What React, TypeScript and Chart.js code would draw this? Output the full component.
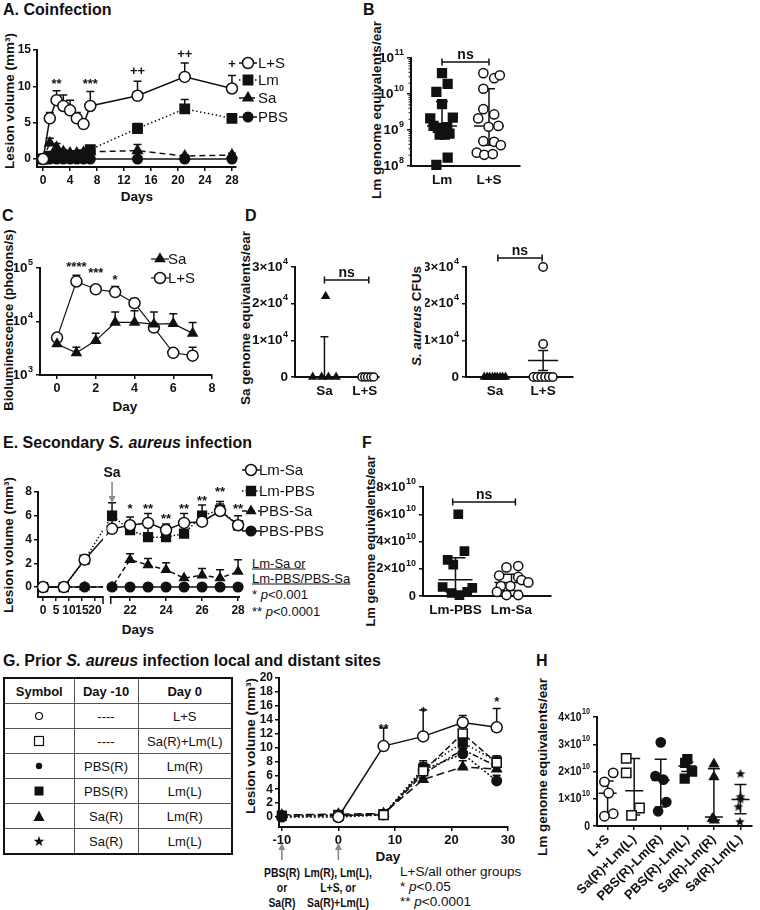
import React, { useEffect, useRef } from 'react';
import { Chart, registerables } from 'chart.js';

Chart.register(...registerables);

const FONT = '"Liberation Sans", Arial, Helvetica, sans-serif';
const INK = '#111111';
const ARROW = '#8a8a8a';
Chart.defaults.font.family = FONT;
Chart.defaults.color = INK;

/* ===================== DATA ===================== */
// A. Coinfection – lesion volume (mm3)
const aDays = [0, 1, 2, 3, 4, 5, 6, 7, 14, 21, 28];
const aLS = [0, 5.6, 8.1, 7.3, 6.7, 5.6, 4.8, 7.3, 8.7, 11.3, 9.7];
const aLSHi = [null, 6.4, 9.4, 8.8, 8.1, 6.4, null, 9.3, 10.7, 13.2, 11.5];
const aLm = [0, 0.4, 0.4, 0.4, 0.5, 0.5, 0.6, 1.3, 4.2, 6.9, 5.6];
const aLmHi = [null, null, null, null, null, null, null, 1.7, 4.9, 8.2, null];
const aSa = [0, 2.2, 1.6, 1.0, 0.8, 0.8, 0.9, 1.0, 1.15, 0.4, 0.55];
const aSaHi = [null, 2.85, 2.15, 1.3, 1.1, 1.05, 1.1, 1.3, 2.0, 0.6, 0.8];
const aPBS = [0, 0, 0, 0, 0, 0, 0, 0, 0, 0, 0];
const aXTicks = [0, 4, 8, 12, 16, 20, 24, 28];
const aYTicks = [0, 5, 10, 15];
const aSigText = ['**', '***', '++', '++', '+'];
const aSigDay = [2, 7, 14, 21, 28];
const aSigAt = [10.9, 10.9, 12.2, 14.5, 13.1];

// B. Lm genome equivalents/ear
const bCats = ['Lm', 'L+S'];
const bLm = [3.8e10, 1.9e10, 1.15e10, 5.2e9, 2.1e9, 2.2e9, 1.3e9, 1.15e9, 1.2e9, 7.4e8, 7.4e8, 7.9e8, 1.7e8, 1.07e8];
const bLmJit = [0, 0.12, -0.12, 0, -0.25, 0.23, -0.18, -0.09, 0.11, -0.05, 0.06, 0.16, 0.12, -0.12];
const bLS = [3.8e10, 2.75e10, 3.3e10, 1.4e10, 3.8e9, 2.7e9, 2.1e9, 1.23e9, 1.3e9, 4.9e8, 4.7e8, 3.8e8, 2.35e8, 2.05e8, 2.15e8];
const bLSJit = [-0.12, 0.11, 0.23, -0.12, -0.12, 0.11, -0.23, -0.01, 0.2, -0.12, 0.11, 0.25, -0.26, -0.1, 0.08];
const bMid = [1.3e9, 1.3e9];
const bHi = [6.2e9, 1.4e10];
const bLo = [7.5e8, 3.8e8];
const bYTicks = [1e8, 1e9, 1e10, 1e11];

// C. Bioluminescence (photons/s)
const cDays = [0, 1, 2, 3, 4, 5, 6, 7];
const cSa = [3.8e3, 2.6e3, 4.4e3, 9.6e3, 9.6e3, 8.9e3, 9.1e3, 6.0e3];
const cSaHi = [4.4e3, 3.3e3, 6.0e3, 1.5e4, 1.58e4, 1.5e4, 1.4e4, 9.6e3];
const cLS = [5.0e3, 5.6e4, 4.0e4, 3.55e4, 2.2e4, 7.7e3, 2.6e3, 2.3e3];
const cLSHi = [null, 7.3e4, 4.6e4, 4.5e4, 2.7e4, null, 2.9e3, 3.3e3];
const cXTicks = [0, 2, 4, 6, 8];
const cYTicks = [1e3, 1e4, 1e5];
const cSigText = ['****', '***', '*'];
const cSigDay = [1, 2, 3];
const cSigAt = [1.25e5, 9.3e4, 6.9e4];

// D. Sa genome equivalents/ear and S. aureus CFUs
const dCats = ['Sa', 'L+S'];
const dSaGen = [22000, 0, 0, 0, 0];
const dSaGenJit = [0.03, -0.29, -0.07, 0.1, 0.29];
const dLSGen = [0, 0, 0, 0, 0];
const dLSGenJit = [-0.07, 0, 0.07, 0.15, 0.22];
const dSaCfu = [0, 0, 0, 0, 0, 0, 0, 0, 0];
const dSaCfuJit = [-0.22, -0.16, -0.11, -0.05, 0, 0.05, 0.11, 0.16, 0.22];
const dLSCfu = [30000, 9000, 0, 0, 0, 0, 0, 0];
const dLSCfuJit = [0, 0, -0.2, -0.12, -0.04, 0.04, 0.12, 0.2];
const dYTicks = [0, 1e4, 2e4, 3e4];

// E. Secondary S. aureus infection – lesion volume (mm3)
const eDays = [0, 8, 16, 21, 22, 23, 24, 25, 26, 27, 28];
const eLmSa = [0, 0, 2.3, 4.9, 5.2, 5.4, 4.8, 5.4, 5.5, 6.4, 5.2];
const eLmSaHi = [null, null, 2.6, 5.6, 5.9, 6.2, 5.3, 6.2, null, 7.0, 6.0];
const eLmPbs = [0, 0, 2.3, 6.0, 4.8, 4.2, 4.2, 4.5, 6.0, 6.5, 5.2];
const eLmPbsHi = [null, null, null, 7.1, null, 5.0, null, null, 6.9, 7.2, null];
const ePbsSa = [0, 0, 0, 0, 2.3, 1.85, 1.45, 0.75, 1.0, 0.75, 1.3];
const ePbsSaHi = [null, null, null, null, 2.8, 2.4, 2.05, null, 1.55, 1.45, 2.3];
const ePbsPbs = [0, 0, 0, 0, 0, 0, 0, 0, 0, 0, 0];
const eTickDays = [0, 5, 10, 15, 20, 22, 24, 26, 28];
const eYTicks = [0, 2, 4, 6, 8];
const eSigText = ['*', '**', '**', '**', '**', '**', '**'];
const eSigDay = [22, 23, 24, 25, 26, 27, 28];
const eSigAt = [6.9, 6.9, 6.05, 6.9, 7.6, 8.3, 6.9];
// broken time axis: days 0-20 compressed, days 21-28 expanded
const eU = (d: number) => (d <= 20 ? d * 0.1444 : 3.833 + (d - 21));

// F. Lm genome equivalents/ear
const fCats = ['Lm-PBS', 'Lm-Sa'];
const fPbs = [6.0e10, 3.3e10, 2.65e10, 2.3e10, 0.66e10, 0.22e10, 0.07e10, 0.3e10, 0.59e10];
const fPbsJit = [0.05, 0.16, -0.14, -0.04, -0.23, -0.07, 0.07, 0.21, 0.3];
const fSa = [2.1e10, 2.2e10, 1.5e10, 1.4e10, 1.17e10, 1.0e10, 0.73e10, 0.73e10, 0.3e10, 0.07e10, 0.07e10];
const fSaJit = [-0.09, 0.12, -0.22, 0.12, 0.18, 0.3, -0.19, -0.02, -0.26, -0.09, 0.12];
const fMid = [1.2e10, 1.0e10];
const fHi = [2.8e10, 1.6e10];
const fLo = [0.3e10, 0.4e10];
const fYTicks = [0, 2e10, 4e10, 6e10, 8e10];

// G. Prior S. aureus infection – lesion volume (mm3)
const gDays = [-10, 0, 8, 15, 22, 28];
const gLS = [null, 0, 10.2, 11.6, 13.6, 12.9];
const gLSHi = [null, null, 12.8, 15.4, 14.6, 15.6];
const gSaLm = [null, 0.2, 0.3, 6.6, 12.0, 7.8];
const gSaLmHi = [null, null, null, 7.4, 12.9, 8.4];
const gPbsR = [0, 0, 0.3, 6.8, 9.1, 5.2];
const gPbsRHi = [null, null, null, 7.8, 9.9, 6.0];
const gPbsL = [0.2, 0.3, 0.4, 7.0, 10.7, 8.0];
const gPbsLHi = [null, null, null, 8.1, 11.4, 8.8];
const gSaR = [0.3, 0.4, 0.5, 5.4, 7.2, 6.9];
const gSaRHi = [null, null, null, 6.2, 8.1, 7.6];
const gSaL = [0.1, 0.2, 0.4, 6.2, 9.7, 7.3];
const gSaLHi = [null, null, null, 7.2, 10.5, 8.1];
const gXTicks = [-10, 0, 10, 20, 30];
const gYTicks = [0, 2, 4, 6, 8, 10, 12, 14, 16, 18, 20];
const gSigText = ['**', '*', '*'];
const gSigDay = [8, 15, 28];
const gSigAt = [13.2, 15.7, 17.1];

// G table
const tHead = ['Symbol', 'Day -10', 'Day 0'];
const tSym = ['oc', 'os', 'fc', 'fs', 'tr', 'st'];
const tPrior = ['----', '----', 'PBS(R)', 'PBS(R)', 'Sa(R)', 'Sa(R)'];
const tDay0 = ['L+S', 'Sa(R)+Lm(L)', 'Lm(R)', 'Lm(L)', 'Lm(R)', 'Lm(L)'];

// H. Lm genome equivalents/ear
const hCats = ['L+S', 'Sa(R)+Lm(L)', 'PBS(R)-Lm(R)', 'PBS(R)-Lm(L)', 'Sa(R)-Lm(R)', 'Sa(R)-Lm(L)'];
const hLS = [1.95e10, 1.62e10, 1.21e10, 0.45e10, 0.36e10];
const hLSJit = [0.21, -0.12, 0.04, 0.21, -0.12];
const hSaLm = [2.48e10, 1.95e10, 0.66e10, 0.39e10];
const hSaLmJit = [-0.3, -0.3, 0.2, -0.1];
const hPbsR = [3.07e10, 1.83e10, 1.7e10, 0.88e10, 0.54e10];
const hPbsRJit = [0, -0.2, 0.1, 0.21, -0.1];
const hPbsL = [2.45e10, 2.32e10, 2.0e10, 1.74e10];
const hPbsLJit = [0, -0.08, 0.18, -0.1];
const hSaR = [2.27e10, 1.8e10, 0.27e10, 0.21e10];
const hSaRJit = [0, 0, -0.06, 0.02];
const hSaL = [1.93e10, 1.09e10, 1.0e10, 0.72e10, 0.17e10];
const hSaLJit = [0, 0, 0, -0.08, -0.02];
const hMid = [1.2e10, 1.29e10, 1.68e10, 2.2e10, 0.33e10, 0.97e10];
const hHi = [1.65e10, 2.48e10, 2.45e10, 2.35e10, 2.1e10, 1.52e10];
const hLo = [0.45e10, 0.4e10, 0.7e10, 2.0e10, 0.22e10, 0.45e10];
const hYTicks = [0, 1e10, 2e10, 3e10, 4e10];

/* ===================== HELPERS ===================== */
type Box = { x: number; y: number; w: number; h: number };
type Plot = { L: number; T: number; R: number; B: number };

function series(xs: number[], ys: (number | null)[], hi?: (number | null)[], mapX?: (v: number) => number) {
  const out: any[] = [];
  xs.forEach((x, i) => {
    const y = ys[i];
    if (y !== null && y !== undefined) out.push({ x: mapX ? mapX(x) : x, y, hi: hi ? hi[i] : null });
  });
  return out;
}
function jittered(cat: number, vals: number[], jit: number[]) {
  return vals.map((v, i) => ({ x: cat + jit[i], y: v }));
}

const starCache: Record<string, HTMLCanvasElement> = {};
function starImg(R: number) {
  const key = String(R);
  if (starCache[key]) return starCache[key];
  const c = document.createElement('canvas');
  const s = Math.ceil(R * 2 + 2);
  c.width = s;
  c.height = s;
  const ctx = c.getContext('2d')!;
  ctx.fillStyle = INK;
  ctx.beginPath();
  for (let i = 0; i < 10; i++) {
    const rr = i % 2 === 0 ? R : R * 0.45;
    const a = -Math.PI / 2 + (i * Math.PI) / 5;
    const px = s / 2 + rr * Math.cos(a);
    const py = s / 2 + rr * Math.sin(a) + R * 0.1;
    if (i === 0) ctx.moveTo(px, py);
    else ctx.lineTo(px, py);
  }
  ctx.closePath();
  ctx.fill();
  starCache[key] = c;
  return c;
}

function look(shape: string, r: number, filled: boolean, dash: number[] = [], line = true, lw = 1.5) {
  return {
    pointStyle: shape === 'star' ? starImg(r) : shape,
    pointRadius: r,
    pointHoverRadius: r,
    pointBackgroundColor: filled ? INK : '#ffffff',
    pointBorderColor: INK,
    pointBorderWidth: 1.5,
    borderColor: INK,
    borderWidth: lw,
    borderDash: dash,
    showLine: line,
    tension: 0,
    spanGaps: true,
    clip: false,
    fill: false,
  };
}

function marker(ctx: CanvasRenderingContext2D, ds: any, x: number, y: number) {
  const st = ds.pointStyle;
  const r = ds.pointRadius;
  ctx.save();
  ctx.setLineDash([]);
  if (typeof st !== 'string') {
    ctx.drawImage(st, x - st.width / 2, y - st.height / 2);
    ctx.restore();
    return;
  }
  ctx.fillStyle = ds.pointBackgroundColor;
  ctx.strokeStyle = ds.pointBorderColor;
  ctx.lineWidth = ds.pointBorderWidth;
  ctx.beginPath();
  if (st === 'circle') ctx.arc(x, y, r, 0, Math.PI * 2);
  else if (st === 'rect') {
    const s = r * Math.SQRT1_2;
    ctx.rect(x - s, y - s, 2 * s, 2 * s);
  } else if (st === 'triangle') {
    let a = 0;
    ctx.moveTo(x + Math.sin(a) * r, y - Math.cos(a) * r);
    a += (2 * Math.PI) / 3;
    ctx.lineTo(x + Math.sin(a) * r, y - Math.cos(a) * r);
    a += (2 * Math.PI) / 3;
    ctx.lineTo(x + Math.sin(a) * r, y - Math.cos(a) * r);
    ctx.closePath();
  }
  ctx.fill();
  ctx.stroke();
  ctx.restore();
}

function sciParts(v: number, mode: string): [string, string] {
  if (v === 0) return ['0', ''];
  const e = Math.floor(Math.log10(v) + 1e-9);
  const m = Math.round(v / Math.pow(10, e));
  if (mode === 'pow') return ['10', String(e)];
  return [`${m}\u00d710`, String(e)];
}
function supLabel(ctx: CanvasRenderingContext2D, xr: number, y: number, base: string, exp: string, size: number, sx: number) {
  ctx.save();
  ctx.translate(xr, y);
  ctx.scale(sx, 1);
  ctx.fillStyle = INK;
  ctx.textBaseline = 'middle';
  ctx.textAlign = 'left';
  const fb = `bold ${size}px ${FONT}`;
  const fe = `bold ${Math.round(size * 0.66)}px ${FONT}`;
  ctx.font = fe;
  const we = exp ? ctx.measureText(exp).width + 0.5 : 0;
  ctx.font = fb;
  const wb = ctx.measureText(base).width;
  ctx.fillText(base, -we - wb, 0);
  if (exp) {
    ctx.font = fe;
    ctx.fillText(exp, -we + 0.5, -size * 0.42);
  }
  ctx.restore();
}

type Cfg = {
  ox?: number;
  oy?: number;
  err?: boolean;
  cap?: number;
  sum?: { cats: number[]; mid: (number | null)[]; hi: (number | null)[]; lo: (number | null)[]; hw: number; cap: number };
  notes?: { x: number[]; y: number[]; t: string[]; size?: number };
  brackets?: { x1: number; x2: number; py: number; t: string }[];
  legend?: { mx: number; tx: number; ys: number[]; labels: string[]; size?: number };
  sci?: string;
  sciSize?: number;
  sciSX?: number;
  minorLog?: boolean;
  gap?: [number, number];
  segs?: [number, number][];
  arrows?: { x: number; tail: number; head: number }[];
  tags?: { x: number; py: number; t: string }[];
};

function makeFig(c: Cfg) {
  const ox = c.ox || 0;
  const oy = c.oy || 0;
  return {
    id: 'fig',
    beforeDatasetsDraw(chart: any) {
      const ctx = chart.ctx;
      const xs = chart.scales.x;
      const ys = chart.scales.y;
      ctx.save();
      ctx.strokeStyle = INK;
      ctx.lineWidth = 1.5;
      ctx.setLineDash([]);
      if (c.sum) {
        const s = c.sum;
        s.cats.forEach((cx, i) => {
          const x = xs.getPixelForValue(cx);
          const mid = s.mid[i];
          const hi = s.hi[i];
          const lo = s.lo[i];
          ctx.beginPath();
          if (mid !== null && mid !== undefined) {
            const y = ys.getPixelForValue(mid);
            ctx.moveTo(x - s.hw, y);
            ctx.lineTo(x + s.hw, y);
          }
          if (hi !== null && lo !== null && hi !== undefined && lo !== undefined) {
            const yh = ys.getPixelForValue(hi);
            const yl = ys.getPixelForValue(lo);
            ctx.moveTo(x, yh);
            ctx.lineTo(x, yl);
            ctx.moveTo(x - s.cap, yh);
            ctx.lineTo(x + s.cap, yh);
            ctx.moveTo(x - s.cap, yl);
            ctx.lineTo(x + s.cap, yl);
          }
          ctx.stroke();
        });
      }
      if (c.err) {
        const cap = c.cap || 4;
        chart.data.datasets.forEach((ds: any, di: number) => {
          const meta = chart.getDatasetMeta(di);
          ds.data.forEach((p: any, i: number) => {
            if (p.hi === null || p.hi === undefined) return;
            const el = meta.data[i];
            if (!el) return;
            const yh = ys.getPixelForValue(p.hi);
            ctx.beginPath();
            ctx.moveTo(el.x, el.y);
            ctx.lineTo(el.x, yh);
            ctx.moveTo(el.x - cap, yh);
            ctx.lineTo(el.x + cap, yh);
            ctx.stroke();
          });
        });
      }
      ctx.restore();
    },
    beforeDatasetDraw(chart: any) {
      if (!c.gap) return;
      const ctx = chart.ctx;
      const xs = chart.scales.x;
      const g1 = xs.getPixelForValue(c.gap[0]);
      const g2 = xs.getPixelForValue(c.gap[1]);
      ctx.save();
      ctx.beginPath();
      ctx.rect(0, 0, g1, chart.height);
      ctx.rect(g2, 0, chart.width - g2, chart.height);
      ctx.clip();
    },
    afterDatasetDraw(chart: any) {
      if (c.gap) chart.ctx.restore();
    },
    afterDraw(chart: any) {
      const ctx = chart.ctx;
      const xs = chart.scales.x;
      const ys = chart.scales.y;
      const A = chart.chartArea;
      ctx.save();
      ctx.setLineDash([]);
      if (c.sci) {
        ys.ticks.forEach((t: any) => {
          const [b, e] = sciParts(t.value, c.sci as string);
          supLabel(ctx, A.left - 7, ys.getPixelForValue(t.value), b, e, c.sciSize || 13.5, c.sciSX || 1);
        });
      }
      if (c.minorLog) {
        ctx.strokeStyle = INK;
        ctx.lineWidth = 1;
        const lo = Math.log10(ys.min);
        const hi = Math.log10(ys.max);
        for (let k = Math.floor(lo); k < hi; k++) {
          for (let m = 2; m < 10; m++) {
            const v = m * Math.pow(10, k);
            if (v < ys.min || v > ys.max) continue;
            const p = ys.getPixelForValue(v);
            ctx.beginPath();
            ctx.moveTo(A.left - 2.5, p);
            ctx.lineTo(A.left, p);
            ctx.stroke();
          }
        }
      }
      if (c.segs) {
        ctx.strokeStyle = INK;
        ctx.lineWidth = 2;
        c.segs.forEach(([a, b]) => {
          ctx.beginPath();
          ctx.moveTo(xs.getPixelForValue(a) - 1, A.bottom);
          ctx.lineTo(xs.getPixelForValue(b), A.bottom);
          ctx.stroke();
        });
        ctx.lineWidth = 1.5;
        const e1 = xs.getPixelForValue(c.segs[0][1]);
        const s2 = xs.getPixelForValue(c.segs[1][0]);
        [e1, s2].forEach((p) => {
          ctx.beginPath();
          ctx.moveTo(p, A.bottom - 1);
          ctx.lineTo(p, A.bottom + 7);
          ctx.stroke();
        });
      }
      if (c.notes) {
        const n = c.notes;
        const sz = n.size || 13;
        ctx.fillStyle = INK;
        ctx.textAlign = 'center';
        ctx.textBaseline = 'alphabetic';
        ctx.font = `bold ${sz}px ${FONT}`;
        n.t.forEach((t, i) => {
          const k = t.includes('*') ? 0.6 : 0.36;
          ctx.fillText(t, xs.getPixelForValue(n.x[i]), ys.getPixelForValue(n.y[i]) + k * sz);
        });
      }
      (c.brackets || []).forEach((b) => {
        const x1 = xs.getPixelForValue(b.x1);
        const x2 = xs.getPixelForValue(b.x2);
        const y = b.py - oy;
        ctx.strokeStyle = INK;
        ctx.lineWidth = 1.5;
        ctx.beginPath();
        ctx.moveTo(x1, y);
        ctx.lineTo(x2, y);
        ctx.moveTo(x1, y - 3.5);
        ctx.lineTo(x1, y + 3.5);
        ctx.moveTo(x2, y - 3.5);
        ctx.lineTo(x2, y + 3.5);
        ctx.stroke();
        ctx.fillStyle = INK;
        ctx.font = `bold 14px ${FONT}`;
        ctx.textAlign = 'center';
        ctx.textBaseline = 'alphabetic';
        ctx.fillText(b.t, (x1 + x2) / 2, y - 3.5);
      });
      if (c.legend) {
        const L = c.legend;
        L.ys.forEach((py, i) => {
          const ds = chart.data.datasets[i];
          const y = py - oy;
          const mx = L.mx - ox;
          ctx.strokeStyle = INK;
          ctx.lineWidth = ds.borderWidth;
          ctx.setLineDash(ds.borderDash || []);
          ctx.beginPath();
          ctx.moveTo(mx - 9, y);
          ctx.lineTo(mx + 9, y);
          ctx.stroke();
          ctx.setLineDash([]);
          marker(ctx, ds, mx, y);
          ctx.fillStyle = INK;
          ctx.font = `${L.size || 15}px ${FONT}`;
          ctx.textAlign = 'left';
          ctx.textBaseline = 'middle';
          ctx.fillText(L.labels[i], L.tx - ox, y + 1);
        });
      }
      (c.arrows || []).forEach((a) => {
        const x = xs.getPixelForValue(a.x);
        const t = a.tail - oy;
        const h = a.head - oy;
        const dir = h > t ? 1 : -1;
        ctx.strokeStyle = ARROW;
        ctx.fillStyle = ARROW;
        ctx.lineWidth = 1.6;
        ctx.beginPath();
        ctx.moveTo(x, t);
        ctx.lineTo(x, h - dir * 5);
        ctx.stroke();
        ctx.beginPath();
        ctx.moveTo(x, h);
        ctx.lineTo(x - 3.5, h - dir * 7);
        ctx.lineTo(x + 3.5, h - dir * 7);
        ctx.closePath();
        ctx.fill();
      });
      (c.tags || []).forEach((g) => {
        ctx.fillStyle = INK;
        ctx.font = `bold 14px ${FONT}`;
        ctx.textAlign = 'center';
        ctx.textBaseline = 'middle';
        ctx.fillText(g.t, xs.getPixelForValue(g.x), g.py - oy);
      });
      ctx.restore();
    },
  };
}

function ax(o: {
  type?: string;
  min: number;
  max: number;
  ticks: number[];
  labels?: string[];
  marks?: boolean;
  show?: boolean;
  size?: number;
  rot?: number;
  border?: boolean;
}) {
  return {
    type: o.type || 'linear',
    min: o.min,
    max: o.max,
    afterBuildTicks: (s: any) => {
      s.ticks = o.ticks.map((v) => ({ value: v }));
    },
    grid: {
      display: o.marks !== false,
      drawOnChartArea: false,
      drawTicks: true,
      tickLength: 4,
      color: INK,
      lineWidth: 1.5,
    },
    border: { display: o.border !== false, color: INK, width: 2 },
    ticks: {
      display: o.show !== false,
      autoSkip: false,
      maxRotation: o.rot || 0,
      minRotation: o.rot || 0,
      padding: 2,
      color: INK,
      font: { family: FONT, size: o.size || 12, weight: 'bold' },
      callback: (v: number, i: number) => (o.labels ? o.labels[i] : String(v)),
    },
  };
}

function build(cv: HTMLCanvasElement, box: Box, plot: Plot, type: any, datasets: any[], x: any, y: any, cfg: Cfg) {
  const xh = box.y + box.h - plot.B;
  const yw = plot.L - box.x;
  const zero = (s: any) => {
    s.paddingLeft = 0;
    s.paddingRight = 0;
    s.paddingTop = 0;
    s.paddingBottom = 0;
  };
  return new Chart(cv, {
    type,
    data: { datasets },
    options: {
      responsive: false,
      maintainAspectRatio: false,
      animation: false,
      devicePixelRatio: 1,
      events: [],
      layout: { padding: { left: 0, top: plot.T - box.y, right: box.x + box.w - plot.R, bottom: 0 } },
      plugins: { legend: { display: false }, tooltip: { enabled: false }, title: { display: false } },
      scales: {
        x: { ...x, position: 'bottom', afterFit: (s: any) => { s.height = xh; zero(s); } },
        y: { ...y, position: 'left', afterFit: (s: any) => { s.width = yw; zero(s); } },
      },
    } as any,
    plugins: [makeFig({ ...cfg, ox: box.x, oy: box.y }) as any],
  });
}

/* ===================== PANELS ===================== */
const boxA: Box = { x: 0, y: 20, w: 300, h: 172 };
const boxB: Box = { x: 375, y: 20, w: 160, h: 172 };
const boxC: Box = { x: 14, y: 210, w: 222, h: 190 };
const boxD1: Box = { x: 252, y: 240, w: 132, h: 160 };
const boxD2: Box = { x: 425, y: 240, w: 155, h: 160 };
const boxE: Box = { x: 14, y: 455, w: 330, h: 165 };
const boxF: Box = { x: 368, y: 470, w: 190, h: 150 };
const boxG: Box = { x: 255, y: 665, w: 265, h: 200 };
const boxH: Box = { x: 540, y: 665, w: 220, h: 245 };

const makeA = (cv: HTMLCanvasElement) =>
  build(cv, boxA, { L: 37, T: 50, R: 236, B: 167 }, 'line', [
    { ...look('circle', 5.5, false), data: series(aDays, aLS, aLSHi) },
    { ...look('rect', 6.6, true, [1.5, 2.5]), data: series(aDays, aLm, aLmHi) },
    { ...look('triangle', 5.6, true, [6, 4]), data: series(aDays, aSa, aSaHi) },
    { ...look('circle', 4.8, true), data: series(aDays, aPBS) },
  ],
  ax({ min: -0.9, max: 28.6, ticks: aXTicks }),
  ax({ min: -1.1, max: 15, ticks: aYTicks }),
  {
    err: true,
    notes: { x: aSigDay, y: aSigAt, t: aSigText },
    legend: { mx: 248, tx: 258, ys: [63, 80, 98, 117], labels: ['L+S', 'Lm', 'Sa', 'PBS'] },
  });

const makeB = (cv: HTMLCanvasElement) =>
  build(cv, boxB, { L: 411, T: 58, R: 520, B: 166 }, 'scatter', [
    { ...look('rect', 6.2, true, [], false), data: jittered(1, bLm, bLmJit) },
    { ...look('circle', 4.6, false, [], false), data: jittered(2, bLS, bLSJit) },
  ],
  ax({ min: 0.34, max: 2.66, ticks: [1, 2], labels: bCats, marks: false, size: 13.5 }),
  ax({ type: 'logarithmic', min: 1e8, max: 1e11, ticks: bYTicks, show: false }),
  {
    sum: { cats: [1, 2], mid: bMid, hi: bHi, lo: bLo, hw: 15, cap: 6 },
    sci: 'pow',
    minorLog: true,
    brackets: [{ x1: 1, x2: 2, py: 62, t: 'ns' }],
  });

const makeC = (cv: HTMLCanvasElement) =>
  build(cv, boxC, { L: 40, T: 268, R: 212, B: 375 }, 'line', [
    { ...look('triangle', 5.2, true, [], true, 1.2), data: series(cDays, cSa, cSaHi) },
    { ...look('circle', 5.5, false, [], true, 1.2), data: series(cDays, cLS, cLSHi) },
  ],
  ax({ min: -0.88, max: 8, ticks: cXTicks, size: 12.5 }),
  ax({ type: 'logarithmic', min: 1e3, max: 1e5, ticks: cYTicks, show: false }),
  {
    err: true,
    sci: 'pow',
    notes: { x: cSigDay, y: cSigAt, t: cSigText },
    legend: { mx: 160, tx: 168, ys: [259, 278], labels: ['Sa', 'L+S'] },
  });

const makeD1 = (cv: HTMLCanvasElement) =>
  build(cv, boxD1, { L: 295, T: 267, R: 380, B: 377 }, 'scatter', [
    { ...look('triangle', 4, true, [], false), data: jittered(1, dSaGen, dSaGenJit) },
    { ...look('circle', 4, false, [], false), data: jittered(2, dLSGen, dLSGenJit) },
  ],
  ax({ min: 0.27, max: 2.34, ticks: [1, 2], labels: dCats, marks: false, size: 13.5 }),
  ax({ min: 0, max: 3e4, ticks: dYTicks, show: false }),
  {
    sum: { cats: [1], mid: [0], hi: [1.1e4], lo: [0], hw: 12, cap: 4 },
    sci: 'mul',
    brackets: [{ x1: 1, x2: 2.1, py: 280, t: 'ns' }],
  });

const makeD2 = (cv: HTMLCanvasElement) =>
  build(cv, boxD2, { L: 466, T: 267, R: 573, B: 377 }, 'scatter', [
    { ...look('triangle', 4, true, [], false), data: jittered(1, dSaCfu, dSaCfuJit) },
    { ...look('circle', 4.2, false, [], false), data: jittered(2, dLSCfu, dLSCfuJit) },
  ],
  ax({ min: 0.4, max: 2.62, ticks: [1, 2], labels: dCats, marks: false, size: 13.5 }),
  ax({ min: 0, max: 3e4, ticks: dYTicks, show: false }),
  {
    sum: { cats: [2], mid: [4500], hi: [7200], lo: [1800], hw: 15, cap: 5 },
    sci: 'mul',
    brackets: [{ x1: 1.06, x2: 1.98, py: 258, t: 'ns' }],
  });

const makeE = (cv: HTMLCanvasElement) =>
  build(cv, boxE, { L: 38, T: 492, R: 240, B: 597 }, 'line', [
    { ...look('circle', 5.5, false), data: series(eDays, eLmSa, eLmSaHi, eU) },
    { ...look('rect', 6.2, true, [1.5, 2]), data: series(eDays, eLmPbs, eLmPbsHi, eU) },
    { ...look('triangle', 5, true, [5, 3]), data: series(eDays, ePbsSa, ePbsSaHi, eU) },
    { ...look('circle', 4.8, true), data: series(eDays, ePbsPbs, undefined, eU) },
  ],
  ax({ min: -0.28, max: 10.94, ticks: eTickDays.map(eU), labels: eTickDays.map(String), border: false }),
  ax({ min: -0.84, max: 8, ticks: eYTicks }),
  {
    err: true,
    gap: [3.333, 3.52],
    segs: [[-0.28, 3.333], [3.76, 10.94]],
    notes: { x: eSigDay.map(eU), y: eSigAt, t: eSigText },
    legend: { mx: 251, tx: 259, ys: [470, 491, 511, 531], labels: ['Lm-Sa', 'Lm-PBS', 'PBS-Sa', 'PBS-PBS'] },
    arrows: [{ x: eU(21), tail: 482, head: 503 }],
    tags: [{ x: eU(21), py: 473, t: 'Sa' }],
  });

const makeF = (cv: HTMLCanvasElement) =>
  build(cv, boxF, { L: 423, T: 487, R: 553, B: 596 }, 'scatter', [
    { ...look('rect', 5.8, true, [], false), data: jittered(1, fPbs, fPbsJit) },
    { ...look('circle', 4.6, false, [], false), data: jittered(2, fSa, fSaJit) },
  ],
  ax({ min: 0.42, max: 2.7, ticks: [1, 2], labels: fCats, marks: false, size: 13.5 }),
  ax({ min: 0, max: 8e10, ticks: fYTicks, show: false }),
  {
    sum: { cats: [1, 2], mid: fMid, hi: fHi, lo: fLo, hw: 17, cap: 10 },
    sci: 'mul',
    sciSize: 13,
    brackets: [{ x1: 0.95, x2: 2.07, py: 502, t: 'ns' }],
  });

const makeG = (cv: HTMLCanvasElement) =>
  build(cv, boxG, { L: 279, T: 678, R: 508, B: 827 }, 'line', [
    { ...look('circle', 5.5, false), data: series(gDays, gLS, gLSHi) },
    { ...look('rect', 6.4, false, [6, 3]), data: series(gDays, gSaLm, gSaLmHi) },
    { ...look('circle', 4.8, true, [2, 2]), data: series(gDays, gPbsR, gPbsRHi) },
    { ...look('rect', 6.2, true, [1.5, 2.5]), data: series(gDays, gPbsL, gPbsLHi) },
    { ...look('triangle', 5.4, true, [8, 4]), data: series(gDays, gSaR, gSaRHi) },
    { ...look('star', 5.5, true, [6, 2, 2, 2]), data: series(gDays, gSaL, gSaLHi) },
  ],
  ax({ min: -10.5, max: 30, ticks: gXTicks, size: 13 }),
  ax({ min: -1.44, max: 20, ticks: gYTicks, size: 12 }),
  {
    err: true,
    notes: { x: gSigDay, y: gSigAt, t: gSigText },
    arrows: [{ x: -10, tail: 860, head: 843 }, { x: 0, tail: 860, head: 843 }],
  });

const makeH = (cv: HTMLCanvasElement) =>
  build(cv, boxH, { L: 597, T: 717, R: 760, B: 826 }, 'scatter', [
    { ...look('circle', 4.7, false, [], false), data: jittered(1, hLS, hLSJit) },
    { ...look('rect', 6.6, false, [], false), data: jittered(2, hSaLm, hSaLmJit) },
    { ...look('circle', 4.6, true, [], false), data: jittered(3, hPbsR, hPbsRJit) },
    { ...look('rect', 6.2, true, [], false), data: jittered(4, hPbsL, hPbsLJit) },
    { ...look('triangle', 5, true, [], false), data: jittered(5, hSaR, hSaRJit) },
    { ...look('star', 5, true, [], false), data: jittered(6, hSaL, hSaLJit) },
  ],
  ax({ min: 0.6, max: 6.43, ticks: [1, 2, 3, 4, 5, 6], labels: hCats, size: 13, rot: 45 }),
  ax({ min: 0, max: 4e10, ticks: hYTicks, show: false }),
  {
    sum: { cats: [1, 2, 3, 4, 5, 6], mid: hMid, hi: hHi, lo: hLo, hw: 9, cap: 6 },
    sci: 'mul',
    sciSize: 13,
    sciSX: 0.8,
  });

/* ===================== COMPONENTS ===================== */
function ChartCanvas({ box, make }: { box: Box; make: (cv: HTMLCanvasElement) => Chart }) {
  const ref = useRef<HTMLCanvasElement | null>(null);
  useEffect(() => {
    if (!ref.current) return;
    const ch = make(ref.current);
    return () => ch.destroy();
  }, []);
  return (
    <canvas
      ref={ref}
      width={box.w}
      height={box.h}
      style={{ position: 'absolute', left: box.x, top: box.y, width: box.w, height: box.h }}
    />
  );
}

function Txt(props: {
  x: number;
  y: number;
  size?: number;
  bold?: boolean;
  align?: 'left' | 'center' | 'right';
  rot?: boolean;
  sx?: number;
  underline?: boolean;
  children: React.ReactNode;
}) {
  const { x, y, size = 13, bold = false, align = 'left', rot = false, sx = 1, underline = false } = props;
  const tx = align === 'left' ? '0' : align === 'center' ? '-50%' : '-100%';
  const transform = rot
    ? `translate(-50%,-50%) rotate(-90deg) scaleX(${sx})`
    : `translate(${tx},-50%) scaleX(${sx})`;
  return (
    <div
      style={{
        position: 'absolute',
        left: x,
        top: y,
        whiteSpace: 'nowrap',
        fontFamily: FONT,
        fontSize: size,
        fontWeight: bold ? 'bold' : 'normal',
        lineHeight: 1,
        color: INK,
        transform,
        transformOrigin: rot ? 'center center' : align === 'center' ? 'center center' : 'left center',
        textDecoration: underline ? 'underline' : 'none',
      }}
    >
      {props.children}
    </div>
  );
}

function starPts(cx: number, cy: number, R: number, r: number) {
  const pts: string[] = [];
  for (let i = 0; i < 10; i++) {
    const rr = i % 2 === 0 ? R : r;
    const a = -Math.PI / 2 + (i * Math.PI) / 5;
    pts.push(`${(cx + rr * Math.cos(a)).toFixed(2)},${(cy + rr * Math.sin(a)).toFixed(2)}`);
  }
  return pts.join(' ');
}

function Sym({ k }: { k: string }) {
  let el: React.ReactNode = null;
  if (k === 'oc') el = <circle cx={7} cy={7} r={3.5} fill="#fff" stroke={INK} strokeWidth={1.2} />;
  if (k === 'os') el = <rect x={2.5} y={2.5} width={9} height={9} fill="#fff" stroke={INK} strokeWidth={1.2} />;
  if (k === 'fc') el = <circle cx={7} cy={7} r={3.2} fill={INK} />;
  if (k === 'fs') el = <rect x={2.5} y={2.5} width={9} height={9} fill={INK} />;
  if (k === 'tr') el = <polygon points="7,1.5 12.5,12 1.5,12" fill={INK} />;
  if (k === 'st') el = <polygon points={starPts(7, 7.5, 5.5, 2.3)} fill={INK} />;
  return (
    <svg width={14} height={14} style={{ display: 'block', margin: '0 auto' }}>
      {el}
    </svg>
  );
}

function Table() {
  const cell: React.CSSProperties = {
    border: '1px solid #555',
    textAlign: 'center',
    padding: 0,
    height: 24,
    verticalAlign: 'middle',
  };
  return (
    <table
      style={{
        position: 'absolute',
        left: 3,
        top: 677,
        width: 228,
        borderCollapse: 'collapse',
        tableLayout: 'fixed',
        border: '2px solid #111',
        fontFamily: FONT,
        fontSize: 13,
        color: INK,
      }}
    >
      <colgroup>
        <col style={{ width: 70 }} />
        <col style={{ width: 64 }} />
        <col style={{ width: 94 }} />
      </colgroup>
      <tbody>
        <tr style={{ height: 25 }}>
          {tHead.map((h) => (
            <td key={h} style={{ ...cell, fontWeight: 'bold' }}>
              {h}
            </td>
          ))}
        </tr>
        {tSym.map((s, i) => (
          <tr key={s} style={{ height: 25 }}>
            <td style={cell}>
              <Sym k={s} />
            </td>
            <td style={cell}>{tPrior[i]}</td>
            <td style={cell}>{tDay0[i]}</td>
          </tr>
        ))}
      </tbody>
    </table>
  );
}

export default function App() {
  useEffect(() => {
    document.body.style.margin = '0';
  }, []);
  const Y = 13.5;
  return (
    <div style={{ position: 'absolute', left: 0, top: 0, width: 760, height: 910, background: '#fff', overflow: 'hidden' }}>
      {/* panel titles */}
      <Txt x={3} y={10} size={16} bold>A. Coinfection</Txt>
      <Txt x={363} y={10} size={16} bold>B</Txt>
      <Txt x={2} y={216} size={16} bold>C</Txt>
      <Txt x={245} y={216} size={16} bold>D</Txt>
      <Txt x={3} y={443} size={16} bold>
        E. Secondary <i>S. aureus</i> infection
      </Txt>
      <Txt x={362} y={443} size={16} bold>F</Txt>
      <Txt x={3} y={661} size={16} bold>
        G. Prior <i>S. aureus</i> infection local and distant sites
      </Txt>
      <Txt x={536} y={661} size={16} bold>H</Txt>

      {/* axis titles */}
      <Txt x={10} y={101} size={Y} bold rot>Lesion volume (mm³)</Txt>
      <Txt x={377} y={110} size={Y} bold rot>Lm genome equivalents/ear</Txt>
      <Txt x={8} y={320} size={13} bold rot>Bioluminescence (photons/s)</Txt>
      <Txt x={246} y={318} size={Y} bold rot>Sa genome equivalents/ear</Txt>
      <Txt x={417} y={316} size={Y} bold rot>
        <i>S. aureus</i> CFUs
      </Txt>
      <Txt x={9} y={545} size={Y} bold rot>Lesion volume (mm³)</Txt>
      <Txt x={370} y={541} size={13} bold rot>Lm genome equivalents/ear</Txt>
      <Txt x={251} y={746} size={Y} bold rot>Lesion volume (mm³)</Txt>
      <Txt x={543} y={767} size={Y} bold rot>Lm genome equivalents/ear</Txt>
      <Txt x={137} y={197} size={Y} bold align="center">Days</Txt>
      <Txt x={125} y={407} size={Y} bold align="center">Day</Txt>
      <Txt x={138} y={630} size={Y} bold align="center">Days</Txt>
      <Txt x={388} y={857} size={Y} bold align="center">Day</Txt>

      {/* E footnote */}
      <Txt x={252} y={563} size={13} underline>Lm-Sa or</Txt>
      <Txt x={252} y={578} size={13} underline>Lm-PBS/PBS-Sa</Txt>
      <Txt x={252} y={594} size={13}>
        * <i>p</i>&lt;0.001
      </Txt>
      <Txt x={252} y={611} size={13}>
        ** <i>p</i>&lt;0.0001
      </Txt>

      {/* G footnotes */}
      <Txt x={282} y={872} size={13} bold align="center" sx={0.8}>PBS(R)</Txt>
      <Txt x={282} y={887} size={13} bold align="center" sx={0.8}>or</Txt>
      <Txt x={282} y={902} size={13} bold align="center" sx={0.8}>Sa(R)</Txt>
      <Txt x={338} y={872} size={13} bold align="center" sx={0.8}>Lm(R), Lm(L),</Txt>
      <Txt x={338} y={887} size={13} bold align="center" sx={0.8}>L+S, or</Txt>
      <Txt x={338} y={902} size={13} bold align="center" sx={0.8}>Sa(R)+Lm(L)</Txt>
      <Txt x={400} y={872} size={13.5}>L+S/all other groups</Txt>
      <Txt x={400} y={887} size={13.5}>
        * <i>p</i>&lt;0.05
      </Txt>
      <Txt x={400} y={902} size={13.5}>
        ** <i>p</i>&lt;0.0001
      </Txt>

      <Table />

      <ChartCanvas box={boxA} make={makeA} />
      <ChartCanvas box={boxB} make={makeB} />
      <ChartCanvas box={boxC} make={makeC} />
      <ChartCanvas box={boxD1} make={makeD1} />
      <ChartCanvas box={boxD2} make={makeD2} />
      <ChartCanvas box={boxE} make={makeE} />
      <ChartCanvas box={boxF} make={makeF} />
      <ChartCanvas box={boxG} make={makeG} />
      <ChartCanvas box={boxH} make={makeH} />
    </div>
  );
}
